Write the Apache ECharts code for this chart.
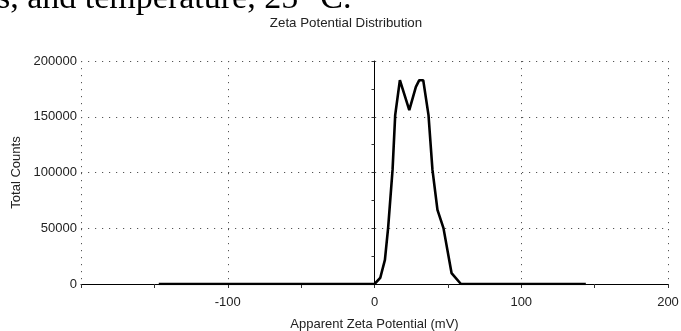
<!DOCTYPE html>
<html>
<head>
<meta charset="utf-8">
<script src="https://cdn.jsdelivr.net/npm/echarts@6/dist/echarts.min.js"></script>
<style>
html,body{margin:0;padding:0;background:#fff;}
#c{width:681px;height:331px;}
</style>
</head>
<body>
<div id="c"></div>
<script>
const zeta = [-147, 0, 0.3, 3.9, 7.1, 9.3, 12.3, 14.1, 17.3, 23.7, 28.2, 30.5, 33.2, 36.8, 39.5, 42.9, 47, 52.5, 58.9, 144];
const counts = [0, 0, 0, 5400, 21700, 50600, 102300, 151500, 182800, 156000, 176800, 182800, 182800, 151500, 102300, 66500, 50100, 9800, 0, 0];
const xTickLabels = ['', '-100', '0', '100', '200'];
const yTickLabels = ['0', '50000', '100000', '150000', '200000'];
const title = 'Zeta Potential Distribution';
const xName = 'Apparent Zeta Potential (mV)';
const yName = 'Total Counts';
const headerText = 's, and temperature, 25 °C.';

const chart = echarts.init(document.getElementById('c'), null, {renderer: 'canvas'});
const font = 'Arial, "Liberation Sans", sans-serif';
const dotted = {color: '#555', width: 1, type: [1.2, 5.8]};
chart.setOption({
  animation: false,
  backgroundColor: '#fff',
  title: {
    text: title, left: 341, top: 12, textAlign: 'center',
    textStyle: {fontFamily: font, fontSize: 13.3, fontWeight: 'normal', color: '#222'}
  },
  graphic: [{
    type: 'text', left: -3, top: -18,
    style: {text: headerText, font: '34px "Liberation Serif", "Times New Roman", serif', fill: '#000'}
  }],
  grid: {left: 81, right: 13, top: 61, bottom: 47, containLabel: false, outerBoundsMode: 'none'},
  xAxis: {
    type: 'value', min: -200, max: 200, interval: 100,
    name: xName, nameLocation: 'middle', nameGap: 34,
    nameTextStyle: {fontFamily: font, fontSize: 13, color: '#222'},
    axisLine: {onZero: false, lineStyle: {color: '#000', width: 1}},
    axisTick: {show: true, length: 4, lineStyle: {color: '#333'}},
    minorTick: {show: true, splitNumber: 2, length: 4, lineStyle: {color: '#333'}},
    axisLabel: {fontFamily: font, fontSize: 13, color: '#222', margin: 12,
      formatter: (v) => xTickLabels[Math.round((v + 200) / 100)]},
    splitLine: {show: true, lineStyle: dotted}
  },
  yAxis: {
    type: 'value', min: 0, max: 200000, interval: 50000,
    name: yName, nameLocation: 'middle', nameGap: 58, nameRotate: 90,
    nameTextStyle: {fontFamily: font, fontSize: 13, color: '#222'},
    axisLine: {show: true, lineStyle: {color: '#000', width: 1}},
    axisTick: {show: true, length: 3, lineStyle: {color: '#333'}},
    minorTick: {show: true, splitNumber: 2, length: 3, lineStyle: {color: '#333'}},
    axisLabel: {fontFamily: font, fontSize: 13, color: '#222', margin: 4,
      formatter: (v) => yTickLabels[Math.round(v / 50000)]},
    splitLine: {show: true, lineStyle: dotted}
  },
  series: [{
    type: 'line',
    data: zeta.map((z, i) => [z, counts[i]]),
    showSymbol: false, symbol: 'none',
    lineStyle: {color: '#000', width: 2.6},
    z: 5
  }]
});
</script>
</body>
</html>
